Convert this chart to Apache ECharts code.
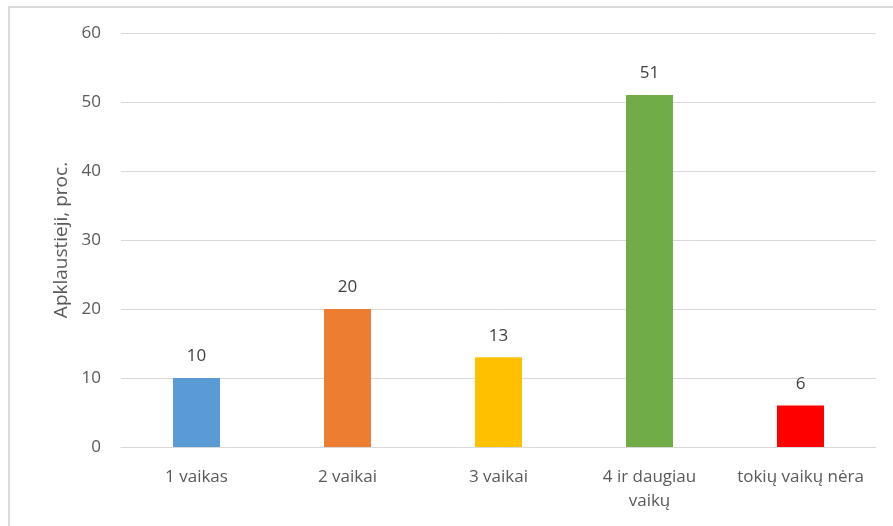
<!DOCTYPE html>
<html>
<head>
<meta charset="utf-8">
<script src="https://cdn.jsdelivr.net/npm/echarts@6/dist/echarts.min.js"></script>
<style>
  html, body { margin: 0; padding: 0; background: #fff; overflow: hidden; }
  #frame { position: absolute; left: 8px; top: 6px; width: 900px; height: 540px; border: 2px solid #d9d9d9; }
  #chart { position: absolute; left: 0; top: 0; width: 893px; height: 526px; }
</style>
</head>
<body>
<div id="frame"></div>
<div id="chart"></div>
<script>
const categories = ['1 vaikas', '2 vaikai', '3 vaikai', '4 ir daugiau\nvaikų', 'tokių vaikų nėra'];
const values = [10, 20, 13, 51, 6];
const colors = ['#5B9BD5', '#ED7D31', '#FFC000', '#70AD47', '#FF0000'];

const myChart = echarts.init(document.getElementById('chart'));
const font = 'Open Sans, Noto Sans, sans-serif';

option = {
  animation: false,
  grid: { left: 121, right: 17, top: 33, bottom: 79 },
  xAxis: {
    type: 'category',
    data: categories,
    axisLine: { lineStyle: { color: '#d9d9d9', width: 1 } },
    axisTick: { show: false },
    axisLabel: { interval: 0, hideOverlap: false, color: '#595959', fontSize: 17, fontFamily: font, margin: 18, lineHeight: 24 }
  },
  yAxis: {
    type: 'value',
    min: 0, max: 60, interval: 10,
    name: 'Apklaustieji, proc.',
    nameLocation: 'middle',
    nameRotate: 90,
    nameGap: 50,
    nameTextStyle: { color: '#595959', fontSize: 19, fontFamily: font },
    axisLine: { show: false },
    axisTick: { show: false },
    axisLabel: { color: '#595959', fontSize: 17, fontFamily: font, margin: 20 },
    splitLine: { lineStyle: { color: '#d9d9d9', width: 1 } }
  },
  series: [{
    type: 'bar',
    barWidth: 47,
    data: values.map((v, i) => ({ value: v, itemStyle: { color: colors[i] } })),
    label: { show: true, position: 'top', distance: 13, color: '#404040', fontSize: 17, fontFamily: font }
  }]
};
myChart.setOption(option);
</script>
</body>
</html>
